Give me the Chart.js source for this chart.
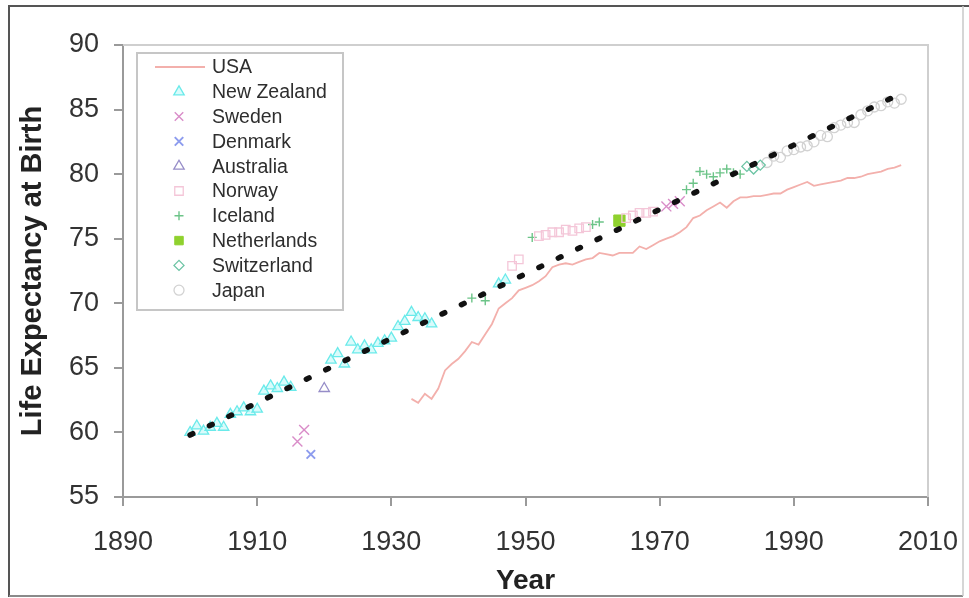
<!DOCTYPE html>
<html>
<head>
<meta charset="utf-8">
<script src="https://cdn.jsdelivr.net/npm/chart.js@4/dist/chart.umd.min.js"></script>
<style>
  html, body { margin: 0; padding: 0; background: #fff; }
  #wrap { width: 969px; height: 598px; position: relative; }
</style>
</head>
<body>
<div id="wrap"><canvas id="c" width="969" height="598"></canvas></div>
<script>
// Female life expectancy at birth: record-holding countries and the USA

const usaYears = [1933,1934,1935,1936,1937,1938,1939,1940,1941,1942,1943,1944,1945,1946,1947,1948,1949,1950,
  1951,1952,1953,1954,1955,1956,1957,1958,1959,1960,1961,1962,1963,1964,1965,1966,1967,1968,1969,1970,
  1971,1972,1973,1974,1975,1976,1977,1978,1979,1980,1981,1982,1983,1984,1985,1986,1987,1988,1989,1990,
  1991,1992,1993,1994,1995,1996,1997,1998,1999,2000,2001,2002,2003,2004,2005,2006];
const usaValues = [62.6,62.3,63.0,62.6,63.4,64.8,65.3,65.7,66.3,67.0,66.8,67.6,68.4,69.6,70.0,70.4,71.0,71.2,
  71.4,71.7,72.1,72.8,73.0,73.1,73.0,73.2,73.4,73.5,73.9,73.8,73.7,73.9,73.9,73.9,74.4,74.2,74.5,74.8,
  75.0,75.2,75.5,75.9,76.6,76.8,77.2,77.5,77.8,77.4,77.9,78.2,78.2,78.3,78.3,78.4,78.5,78.5,78.8,79.0,
  79.2,79.4,79.1,79.2,79.3,79.4,79.5,79.7,79.7,79.8,80.0,80.1,80.2,80.4,80.5,80.7];

const nzYears = [1900,1901,1902,1903,1904,1905,1906,1907,1908,1909,1910,1911,1912,1913,1914,1915,
  1921,1922,1923,1924,1925,1926,1927,1928,1929,1930,1931,1932,1933,1934,1935,1936,1946,1947];
const nzValues = [60.0,60.5,60.1,60.4,60.7,60.4,61.4,61.6,61.9,61.6,61.8,63.2,63.6,63.4,63.9,63.5,
  65.6,66.1,65.3,67.0,66.4,66.7,66.4,66.9,67.1,67.3,68.2,68.6,69.3,68.9,68.8,68.4,71.5,71.8];

const swedenYears = [1916,1917,1971,1972,1973];
const swedenValues = [59.3,60.2,77.5,77.7,77.9];

const denmarkYears = [1918];
const denmarkValues = [58.3];

const australiaYears = [1920];
const australiaValues = [63.4];

const norwayYears = [1948,1949,1952,1953,1954,1955,1956,1957,1958,1959,1965,1966,1967,1968,1969];
const norwayValues = [72.9,73.4,75.2,75.3,75.5,75.5,75.7,75.6,75.8,75.9,76.6,76.8,77.0,77.0,77.1];

const icelandYears = [1942,1944,1951,1960,1961,1974,1975,1976,1977,1978,1979,1980,1981,1982];
const icelandValues = [70.4,70.2,75.1,76.1,76.3,78.8,79.3,80.2,80.0,79.8,80.1,80.4,80.1,80.0];

const netherlandsYears = [1964];
const netherlandsValues = [76.4];

const switzerlandYears = [1983,1984,1985];
const switzerlandValues = [80.6,80.4,80.7];

const japanYears = [1986,1987,1988,1989,1990,1991,1992,1993,1994,1995,1996,1997,1998,1999,2000,
  2001,2002,2003,2004,2005,2006];
const japanValues = [80.9,81.4,81.3,81.8,81.9,82.1,82.2,82.5,83.0,82.9,83.6,83.8,84.0,84.0,84.6,
  84.9,85.2,85.3,85.6,85.5,85.8];

// Linear best-practice trend, 1900 to 2005
const trendYears = [1900, 2005];
const trendValues = [59.8, 86.0];

const xTicks = [1890, 1910, 1930, 1950, 1970, 1990, 2010];
const yTicks = [55, 60, 65, 70, 75, 80, 85, 90];

const FONT = '"Liberation Sans", Arial, Helvetica, sans-serif';

function pts(xs, ys) { return xs.map((x, i) => ({ x: x, y: ys[i] })); }

function markerSet(label, xs, ys, style, color, radius, fill, width) {
  return {
    label: label,
    inLegend: true,
    data: pts(xs, ys),
    showLine: false,
    pointStyle: style,
    pointRadius: radius,
    pointHoverRadius: radius,
    pointBorderColor: color,
    pointBackgroundColor: fill || 'rgba(0,0,0,0)',
    pointBorderWidth: width || 1.3,
    order: 1
  };
}

const datasets = [
  {
    label: 'USA', inLegend: true,
    data: pts(usaYears, usaValues),
    showLine: true, borderColor: '#f3b0ac', borderWidth: 1.8, pointRadius: 0, tension: 0, order: 2
  },
  markerSet('New Zealand', nzYears, nzValues, 'triangle', '#6aeaea', 6, 'rgba(160,246,246,0.4)', 1.3),
  markerSet('Sweden', swedenYears, swedenValues, 'crossRot', '#d98cc8', 7, null, 1.4),
  markerSet('Denmark', denmarkYears, denmarkValues, 'crossRot', '#8d9cee', 6, null, 2),
  markerSet('Australia', australiaYears, australiaValues, 'triangle', '#968dc8', 6, null, 1.3),
  markerSet('Norway', norwayYears, norwayValues, 'rect', '#f4c6d8', 6, null, 1.3),
  markerSet('Iceland', icelandYears, icelandValues, 'cross', '#6cc488', 4.5, null, 1.4),
  markerSet('Netherlands', netherlandsYears, netherlandsValues, 'rect', '#8fd12e', 8, '#8fd12e', 1),
  markerSet('Switzerland', switzerlandYears, switzerlandValues, 'rectRot', '#6cc4a4', 5, null, 1.3),
  markerSet('Japan', japanYears, japanValues, 'circle', '#d2d2d2', 5, null, 1.3),
  {
    label: 'trend', inLegend: false,
    data: pts(trendYears, trendValues),
    showLine: true, borderColor: '#111', borderWidth: 5.5,
    borderDash: [3, 18.5], borderCapStyle: 'round',
    pointRadius: 0, order: -1
  }
];

// Page frame and the light top/right edges of the plot box
const framePlugin = {
  id: 'frame',
  beforeDraw(chart) {
    const ctx = chart.ctx;
    ctx.save();
    ctx.fillStyle = '#fff';
    ctx.fillRect(0, 0, chart.width, chart.height);
    ctx.restore();
  },
  beforeDatasetsDraw(chart) {
    const { ctx, chartArea: a } = chart;
    ctx.save();
    ctx.strokeStyle = '#cfcfcf';
    ctx.lineWidth = 2;
    ctx.beginPath();
    ctx.moveTo(a.left, a.top);
    ctx.lineTo(a.right, a.top);
    ctx.lineTo(a.right, a.bottom);
    ctx.stroke();
    ctx.restore();
  },
  afterDraw(chart) {
    const ctx = chart.ctx;
    ctx.save();
    ctx.lineWidth = 2;
    ctx.strokeStyle = '#555';
    ctx.beginPath();
    ctx.moveTo(9, 597); ctx.lineTo(9, 6); ctx.lineTo(969, 6);
    ctx.stroke();
    ctx.strokeStyle = '#8a8a8a';
    ctx.beginPath();
    ctx.moveTo(9, 596); ctx.lineTo(963, 596);
    ctx.stroke();
    ctx.strokeStyle = '#c8c8c8';
    ctx.lineWidth = 1.5;
    ctx.beginPath();
    ctx.moveTo(963, 6); ctx.lineTo(963, 596);
    ctx.stroke();
    ctx.restore();
  }
};

// Boxed legend inside the upper-left corner of the plot
const insetLegend = {
  id: 'insetLegend',
  afterDraw(chart) {
    const { ctx, chartArea: a } = chart;
    const x0 = a.left + 14, y0 = a.top + 8, w = 206, h = 257, rowH = 24.8;
    ctx.save();
    ctx.fillStyle = '#fff';
    ctx.fillRect(x0, y0, w, h);
    ctx.strokeStyle = '#c6c6c6';
    ctx.lineWidth = 2;
    ctx.strokeRect(x0, y0, w, h);
    ctx.font = '19.5px ' + FONT;
    ctx.textBaseline = 'middle';
    ctx.textAlign = 'left';
    chart.data.datasets.filter(d => d.inLegend).forEach((ds, i) => {
      const cy = y0 + 14 + i * rowH;
      const cx = x0 + 42;
      if (ds.showLine) {
        ctx.strokeStyle = ds.borderColor;
        ctx.lineWidth = ds.borderWidth;
        ctx.beginPath();
        ctx.moveTo(x0 + 18, cy);
        ctx.lineTo(x0 + 68, cy);
        ctx.stroke();
      } else {
        ctx.strokeStyle = ds.pointBorderColor;
        ctx.fillStyle = ds.pointBackgroundColor;
        ctx.lineWidth = ds.pointBorderWidth;
        Chart.helpers.drawPoint(ctx, {
          pointStyle: ds.pointStyle,
          radius: Math.min(ds.pointRadius, 6),
          rotation: 0,
          borderWidth: ds.pointBorderWidth
        }, cx, cy);
      }
      ctx.fillStyle = '#2e2e2e';
      ctx.fillText(ds.label, x0 + 75, cy + 1);
    });
    ctx.restore();
  }
};

new Chart(document.getElementById('c'), {
  type: 'scatter',
  data: { datasets: datasets },
  options: {
    responsive: false,
    animation: false,
    events: [],
    layout: { padding: { top: 45, right: 41, left: 0, bottom: 0 } },
    plugins: { legend: { display: false }, tooltip: { enabled: false } },
    scales: {
      x: {
        type: 'linear', min: xTicks[0], max: xTicks[xTicks.length - 1],
        afterBuildTicks(scale) { scale.ticks = xTicks.map(v => ({ value: v })); },
        afterFit(scale) { scale.height = 101; scale.paddingLeft = 0; scale.paddingRight = 0; },
        ticks: {
          callback: v => String(v), color: '#333', padding: 20,
          font: { family: FONT, size: 27, lineHeight: 1.2 }, maxRotation: 0, autoSkip: false
        },
        grid: { drawOnChartArea: false, drawTicks: true, tickLength: 9, color: '#9a9a9a', lineWidth: 2 },
        border: { display: true, color: '#9a9a9a', width: 2 },
        title: {
          display: true, text: 'Year', color: '#222',
          font: { family: FONT, size: 28, weight: 'bold', lineHeight: 1.2 }, padding: { top: 10, bottom: 0 }
        }
      },
      y: {
        type: 'linear', min: yTicks[0], max: yTicks[yTicks.length - 1],
        afterBuildTicks(scale) { scale.ticks = yTicks.map(v => ({ value: v })); },
        afterFit(scale) { scale.width = 123; scale.paddingTop = 0; scale.paddingBottom = 0; },
        ticks: {
          callback: v => String(v), color: '#333', padding: 15,
          font: { family: FONT, size: 27, lineHeight: 1.2 }, autoSkip: false
        },
        grid: { drawOnChartArea: false, drawTicks: true, tickLength: 9, color: '#9a9a9a', lineWidth: 2 },
        border: { display: true, color: '#9a9a9a', width: 2 },
        title: {
          display: true, text: 'Life Expectancy at Birth', color: '#222',
          font: { family: FONT, size: 29, weight: 'bold', lineHeight: 1.2 }, padding: { top: 16, bottom: 0 }
        }
      }
    }
  },
  plugins: [framePlugin, insetLegend]
});
</script>
</body>
</html>
